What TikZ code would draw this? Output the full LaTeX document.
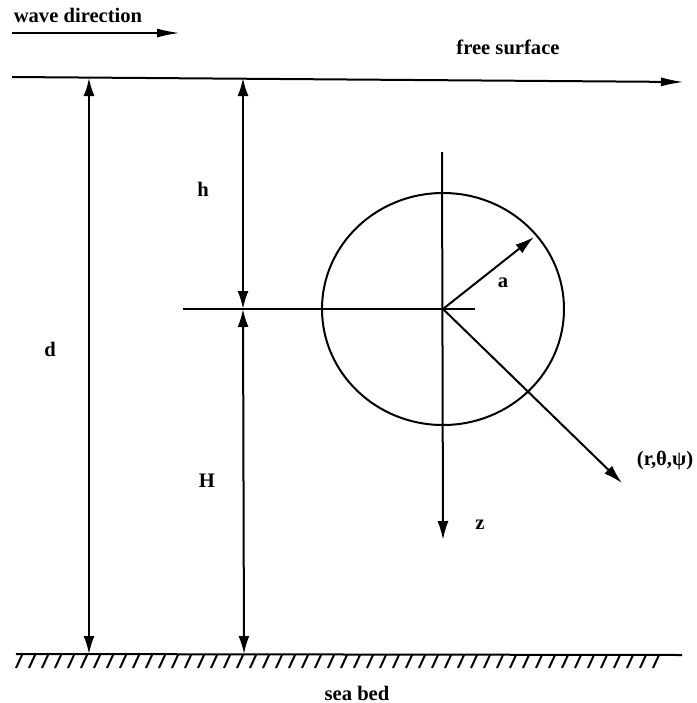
\documentclass[tikz,border=0pt]{standalone}
\usepackage{fontspec}
\setmainfont{Liberation Serif}
\usetikzlibrary{arrows.meta}

\begin{document}
\begin{tikzpicture}[x=0.5pt, y=-0.5pt, line width=1pt,
  tip/.style={-{Latex[length=9.5pt, width=5.5pt]}},
  longtip/.style={-{Latex[length=11.5pt, width=4.5pt]}},
  dim/.style={{Latex[length=9pt, width=5.5pt]}-{Latex[length=9pt, width=5.5pt]}},
  lbl/.style={font=\fontsize{10.3}{12}\selectfont\bfseries, inner sep=0pt}]
  \useasboundingbox (0,0) rectangle (697,703);

  % surface, sea bed and wave arrow
  \coordinate (waveL) at (12,33);
  \coordinate (waveR) at (180,33);
  \coordinate (fsL) at (12,77);
  \coordinate (fsR) at (684,82);
  \coordinate (sbL) at (16,654);
  \coordinate (sbR) at (682,655);
  \node[lbl] (wave) at (78,15) {wave direction};
  \node[lbl] (free) at (508,47) {free surface};
  \node[lbl] (bed) at (357,693) {sea bed};
  \draw[longtip] (waveL) -- (waveR);
  \draw[longtip] (fsL) -- (fsR);
  \draw (sbL) -- (sbR);
  \foreach \x in {22,35,...,662}
    \draw[line width=1pt] (\x,655) -- ++(-6,13);

  % sphere and its axes
  \coordinate (O) at (443,309);
  \coordinate (zTop) at (442,152);
  \coordinate (zBot) at (443,540);
  \coordinate (hL) at (183,309);
  \coordinate (hR) at (475,309);
  \coordinate (aTip) at (534,237);
  \coordinate (rTip) at (622,483);
  \draw (O) ellipse [x radius=121, y radius=116];
  \draw (hL) -- (hR);
  \draw[tip] (zTop) -- (zBot);
  \draw[tip] (O) -- (aTip);
  \draw[tip] (O) -- (rTip);
  \node[lbl] (zlab) at (480,525) {z};
  \node[lbl] (alab) at (503,283) {a};
  \node[lbl] (rlab) at (665,460) {(r,θ,ψ)};

  % depths
  \coordinate (dTop) at (89,78);
  \coordinate (dBot) at (89,654);
  \coordinate (hTop) at (243,78);
  \coordinate (hMid) at (243,309);
  \coordinate (HBot) at (244,654);
  \draw[dim] (dTop) -- (dBot);
  \draw[dim] (hTop) -- (hMid);
  \draw[dim] (hMid) -- (HBot);
  \node[lbl] (dlab) at (50,349) {d};
  \node[lbl] (hlab) at (203,189) {h};
  \node[lbl] (Hlab) at (207,481) {H};
\end{tikzpicture}
\end{document}
